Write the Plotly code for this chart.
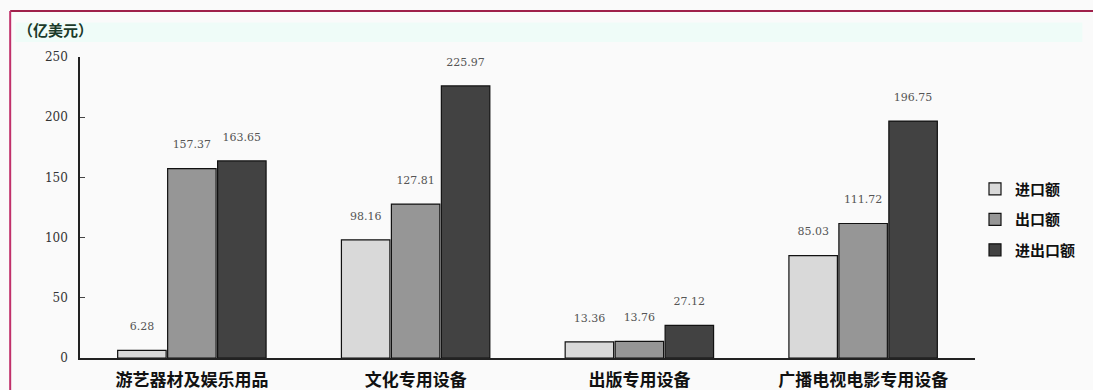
import plotly.graph_objects as go

categories = ["游艺器材及娱乐用品", "文化专用设备", "出版专用设备", "广播电视电影专用设备"]
series_names = ["进口额", "出口额", "进出口额"]
imports = [6.28, 98.16, 13.36, 85.03]
exports = [157.37, 127.81, 13.76, 111.72]
totals = [163.65, 225.97, 27.12, 196.75]
y_ticks = [0, 50, 100, 150, 200, 250]
unit_label = "（亿美元）"

colors = ["#d9d9d9", "#969696", "#424242"]
values = [imports, exports, totals]

fig = go.Figure()
for i, (name, vals) in enumerate(zip(series_names, values)):
    fig.add_trace(go.Bar(
        x=categories, y=vals, name=name,
        marker=dict(color=colors[i], line=dict(color="#111111", width=1.2)),
        text=[f"{v:.2f}" for v in vals],
        texttemplate="%{text}<br> ",
        textposition="outside",
        cliponaxis=False,
        textfont=dict(family="DejaVu Serif", size=11, color="#555555"),
        legendgroup=name,
    ))

fig.update_layout(
    width=1093, height=390,
    margin=dict(l=80, r=118, t=57, b=32),
    paper_bgcolor="#fafafa", plot_bgcolor="#fafafa",
    barmode="group", bargap=0.33, bargroupgap=0.03,
    font=dict(family="Noto Sans CJK SC", color="#111111"),
    showlegend=True,
    legend=dict(x=1.0, xanchor="left", y=0.46, yanchor="middle",
                font=dict(family="Noto Sans CJK SC", size=15, color="#111111", weight="bold"),
                bgcolor="rgba(0,0,0,0)", tracegroupgap=8, traceorder="grouped"),
    xaxis=dict(showline=True, linecolor="#222222", linewidth=1.5, ticks="",
               tickfont=dict(family="Noto Sans CJK SC", size=17, color="#111111", weight="bold"),
               showgrid=False, ticklabelstandoff=6, automargin=False),
    yaxis=dict(range=[0, 250], tickvals=y_ticks, showline=True, linecolor="#222222", linewidth=1.5,
               ticks="inside", ticklen=5, tickcolor="#444444", showgrid=False, zeroline=False,
               tickfont=dict(family="DejaVu Serif", size=12, color="#333333"), ticklabelstandoff=8,
               automargin=False),
    annotations=[dict(text=unit_label, xref="paper", yref="paper", x=-0.072, y=1.09,
                      xanchor="left", yanchor="middle", showarrow=False,
                      font=dict(family="Noto Sans CJK SC", size=15, color="#1a3a2a", weight="bold"))],
    shapes=[
        dict(type="rect", xref="paper", yref="paper", x0=-0.072, x1=1.12, y0=1.05, y1=1.115,
             fillcolor="#effcf8", line=dict(width=0), layer="below"),
        dict(type="line", xref="paper", yref="paper", x0=-0.078, x1=1.15, y0=1.153, y1=1.153,
             line=dict(color="#a0204a", width=2)),
        dict(type="line", xref="paper", yref="paper", x0=-0.078, x1=-0.078, y0=-0.12, y1=1.153,
             line=dict(color="#c0306a", width=2)),
    ],
)

fig.write_html("out.html")
